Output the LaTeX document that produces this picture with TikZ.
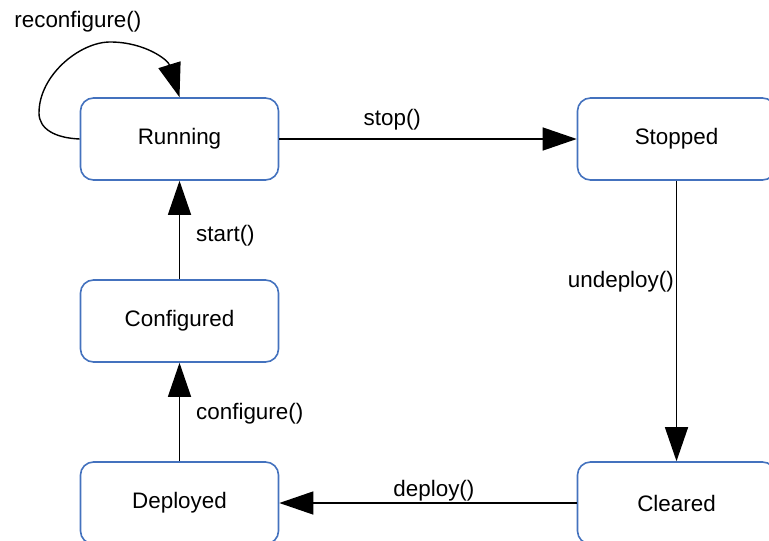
\documentclass[tikz,border=0pt]{standalone}
\usepackage{fontspec}
\setmainfont{Liberation Sans}
\usetikzlibrary{arrows.meta}
\definecolor{boxblue}{RGB}{68,114,190}
\tikzset{
  state/.style={draw=boxblue, line width=0.8pt, rounded corners=6.5pt, fill=white,
    minimum width=99pt, minimum height=41pt, inner sep=0pt, font=\fontsize{11.2}{13}\selectfont},
  conn/.style={draw=black, line width=0.7pt, -{Triangle[length=17pt,width=11.5pt]}},
  lbl/.style={font=\fontsize{11.2}{13}\selectfont, inner sep=0pt}
}
\begin{document}
\begin{tikzpicture}[x=0.5pt,y=-0.5pt]
\clip (0,0) rectangle (769,540);
\fill[white] (0,0) rectangle (769,540);
\node[state] (run) at (179.5,139) {Running};
\node[state] (stop) at (676.5,139) {Stopped};
\node[state] (conf) at (179.5,321) {Configured};
\node[state] (dep) at (179.5,503) {Deployed};
\node[state] (clr) at (676.5,503) {Cleared};

\draw[conn] (run.east) -- (stop.west) node[lbl, pos=0.38, above=4pt] {stop()};
\draw[conn] (stop.south) -- (clr.north) node[lbl, pos=0.36, left=1pt] {undeploy()};
\draw[conn] (clr.west) -- (dep.east) node[lbl, pos=0.48, above=0.5pt] {deploy()};
\draw[conn] (dep.north) -- (conf.south) node[lbl, pos=0.48, right=8pt] {configure()};
\draw[conn] (conf.north) -- (run.south) node[lbl, pos=0.44, right=8pt] {start()};

\draw[conn] (run.west) .. controls (55,138) and (39,129) .. (39,113)
  .. controls (39,75) and (80,42) .. (110,42)
  .. controls (145,42) and (168,60) .. (run.north);
\node[lbl, anchor=west] (rl) at (14,22) {reconfigure()};
\end{tikzpicture}
\end{document}
